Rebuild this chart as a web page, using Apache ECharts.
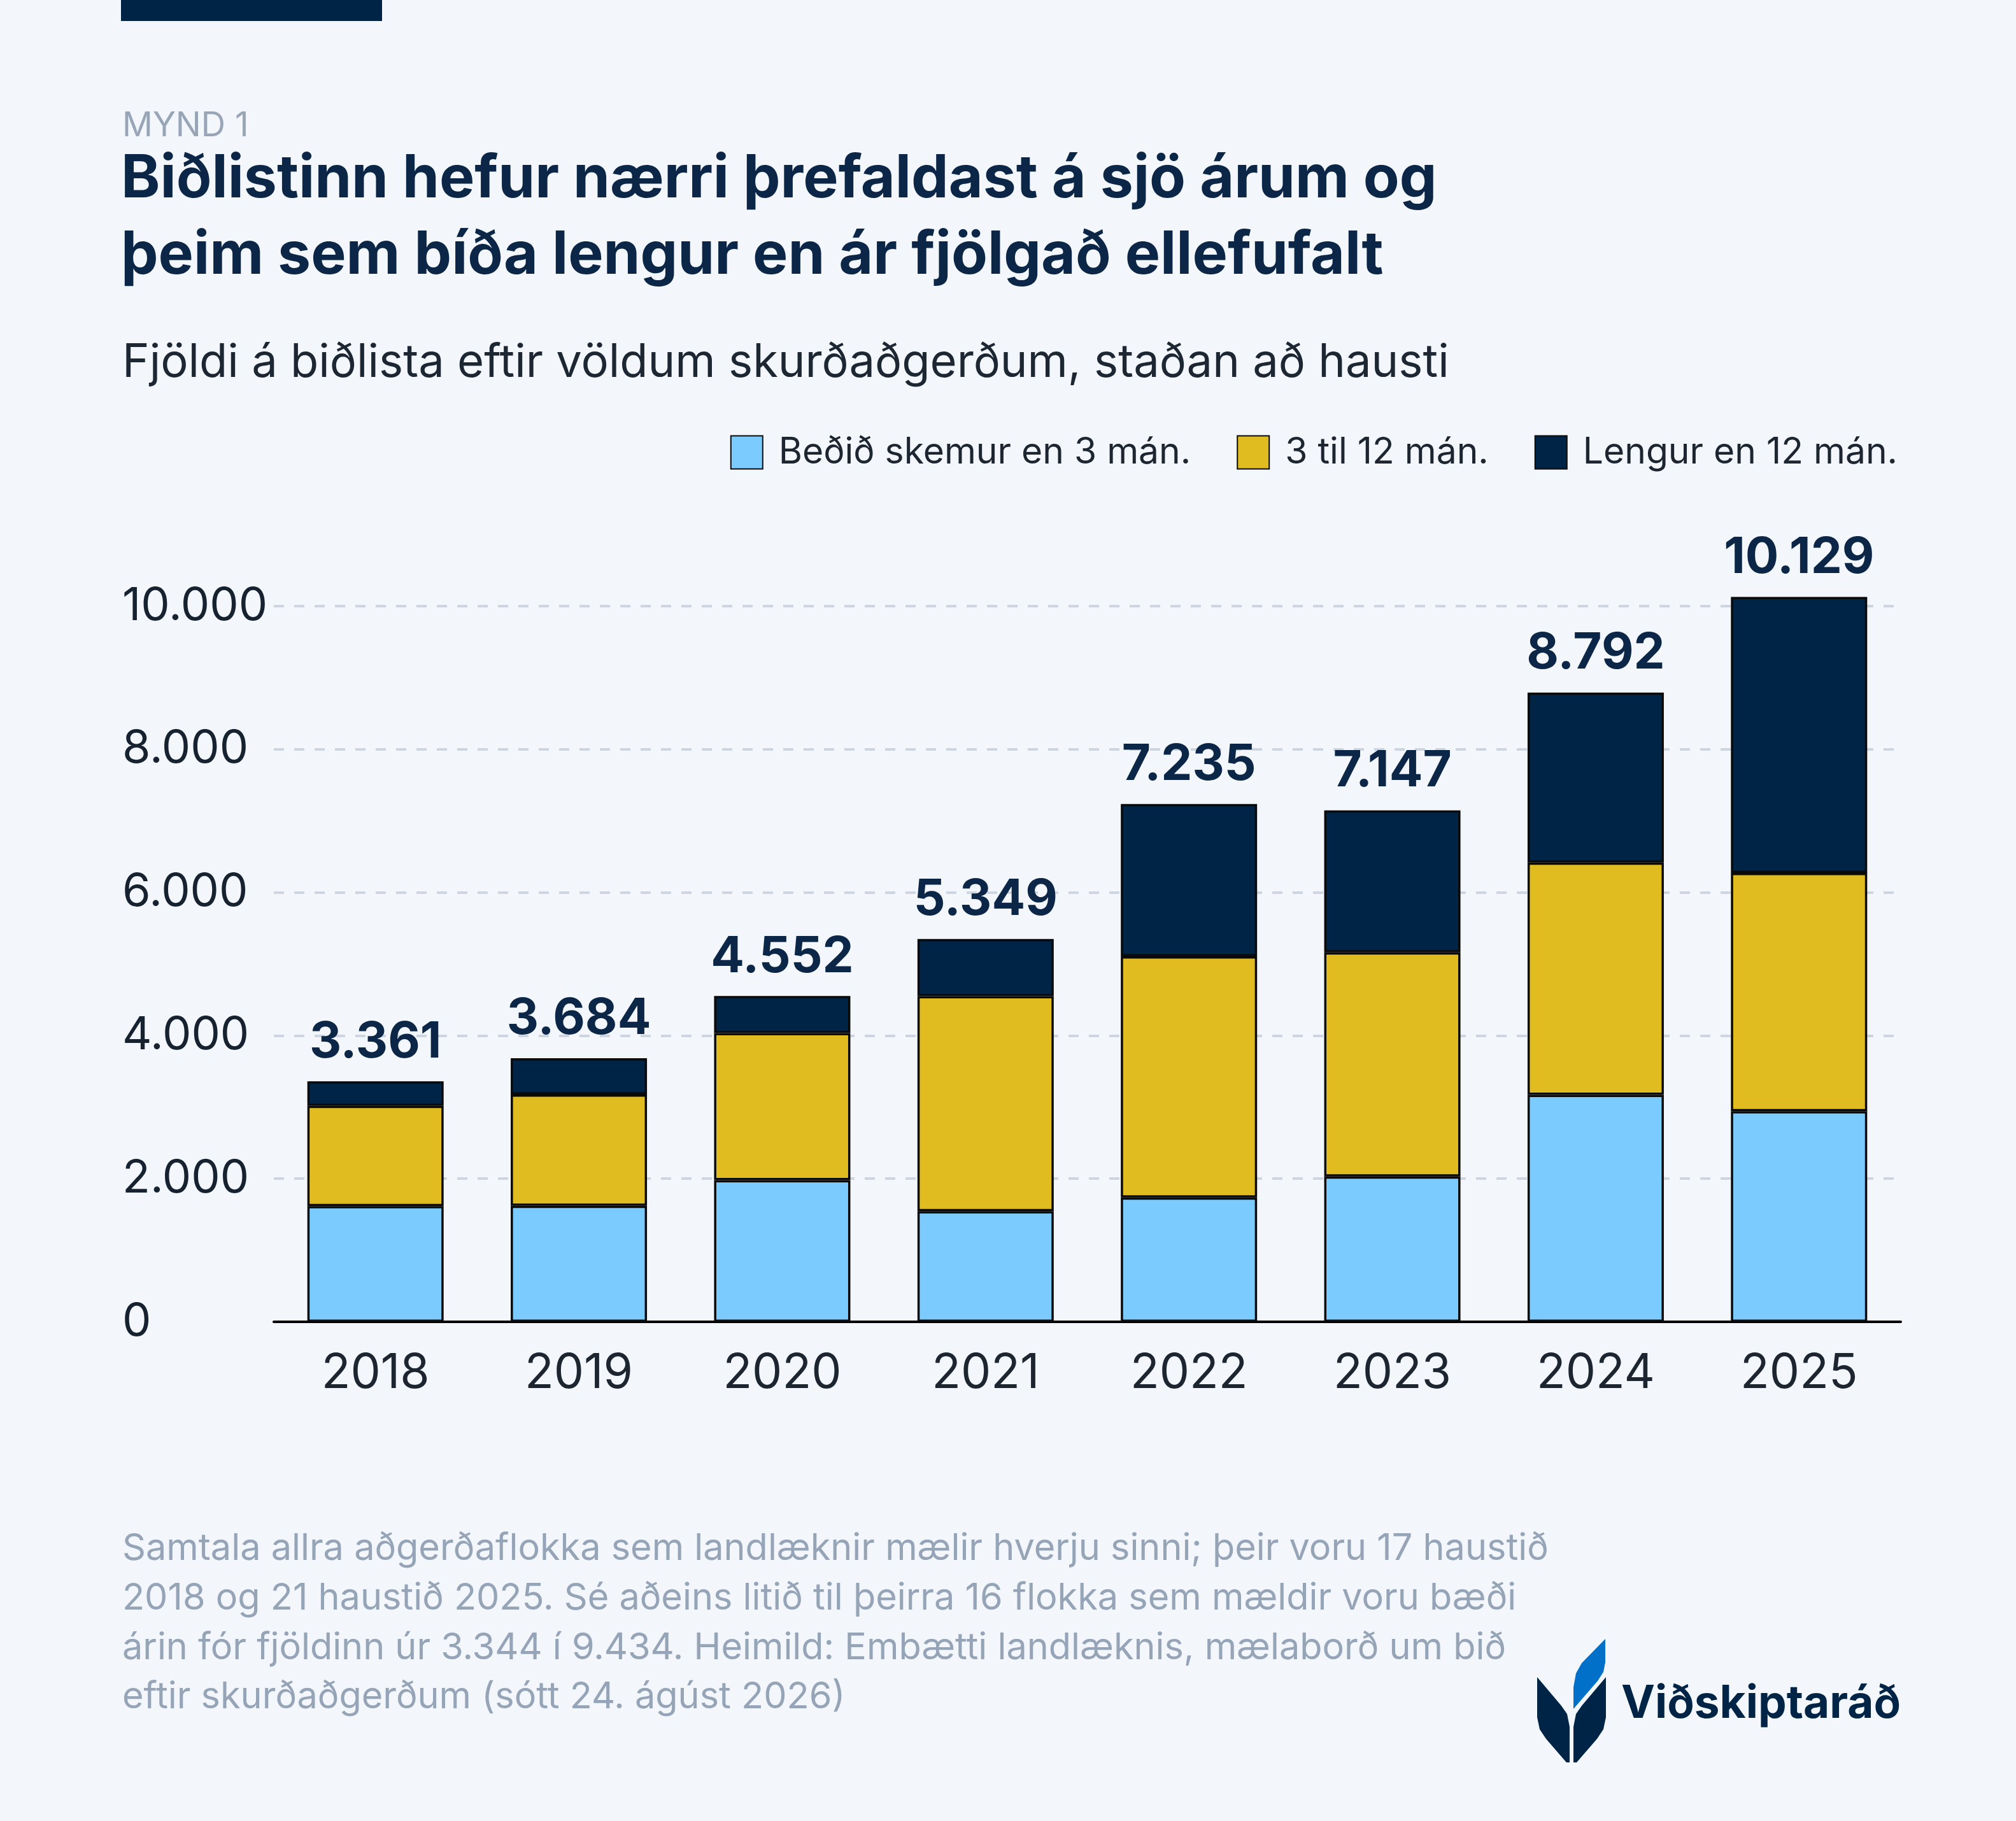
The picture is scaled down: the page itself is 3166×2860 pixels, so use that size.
<!doctype html>
<html lang="is">
<head>
    <meta charset="utf-8">
    <title>Mynd 1</title>
    <script src="https://cdn.jsdelivr.net/npm/echarts@6/dist/echarts.min.js"></script>
    <style>
        html, body { margin: 0; padding: 0; background: #f3f7fc; }
        #main { width: 3166px; height: 2860px; }
    </style>
</head>
<body>
    <div id="main"></div>
    <script type="text/javascript">
    // gögn lesin af myndinni
    var years = ['2018', '2019', '2020', '2021', '2022', '2023', '2024', '2025'];
    var under3 = [1618, 1622, 1979, 1545, 1737, 2030, 3172, 2942];
    var from3to12 = [1401, 1555, 2056, 3005, 3370, 3133, 3244, 3331];
    var over12 = [342, 507, 517, 799, 2128, 1984, 2376, 3856];
    var totals = [3361, 3684, 4552, 5349, 7235, 7147, 8792, 10129];
    var seriesNames = ['Beðið skemur en 3 mán.', '3 til 12 mán.', 'Lengur en 12 mán.'];

    var FONT = 'Inter, "Noto Sans", sans-serif';
    var NAVY = '#002445';

    function fmt(v) {
        return String(v).replace(/\B(?=(\d{3})+(?!\d))/g, '.');
    }

    function txt(text, x, y, size, color, weight) {
        return {
            type: 'text',
            x: x,
            y: y,
            style: {
                text: text,
                fill: color,
                font: (weight || 'normal') + ' ' + size + 'px ' + FONT,
                textAlign: 'left',
                textVerticalAlign: 'middle'
            }
        };
    }

    var footer = [
        'Samtala allra aðgerðaflokka sem landlæknir mælir hverju sinni; þeir voru 17 haustið',
        '2018 og 21 haustið 2025. Sé aðeins litið til þeirra 16 flokka sem mældir voru bæði',
        'árin fór fjöldinn úr 3.344 í 9.434. Heimild: Embætti landlæknis, mælaborð um bið',
        'eftir skurðaðgerðum (sótt 24. ágúst 2026)'
    ];

    var graphics = [
        { type: 'rect', shape: { x: 190, y: 0, width: 410, height: 33 }, style: { fill: NAVY } },
        txt('MYND 1', 192, 198, 53, '#98a5b7'),
        txt('Biðlistinn hefur nærri þrefaldast á sjö árum og', 190, 282, 93, '#0b2646', 'bold'),
        txt('þeim sem bíða lengur en ár fjölgað ellefufalt', 190, 402, 93, '#0b2646', 'bold'),
        txt('Fjöldi á biðlista eftir völdum skurðaðgerðum, staðan að hausti', 192, 570, 72.3, '#1c2733')
    ];
    footer.forEach(function (line, i) {
        graphics.push(txt(line, 192, 2433 + i * 77.7, 57.6, '#96a4b8'));
    });
    // merki
    graphics.push(
        { type: 'polygon', shape: { points: [[2521, 2574], [2521, 2611], [2518, 2626], [2509, 2640], [2471, 2684], [2471, 2650], [2475, 2628], [2484, 2612]] }, style: { fill: '#0070c9' } },
        { type: 'polygon', shape: { points: [[2414, 2634], [2452, 2679], [2461, 2692], [2465, 2712], [2465, 2768], [2460, 2768], [2428, 2731], [2418, 2716], [2414, 2697]] }, style: { fill: NAVY } },
        { type: 'polygon', shape: { points: [[2522, 2634], [2484, 2679], [2475, 2692], [2471, 2712], [2471, 2768], [2476, 2768], [2508, 2731], [2518, 2716], [2522, 2697]] }, style: { fill: NAVY } },
        txt('Viðskiptaráð', 2546, 2677, 71, NAVY, 'bold')
    );

    var myChart = echarts.init(document.getElementById('main'));

    var barStyle = function (color) {
        return { color: color, borderColor: '#0a0a0a', borderWidth: 3.5 };
    };

    var option = {
        backgroundColor: '#f3f7fc',
        animation: false,
        textStyle: { fontFamily: FONT },
        graphic: graphics,
        legend: {
            right: 181,
            top: 677,
            icon: 'rect',
            itemWidth: 50,
            itemHeight: 52,
            itemGap: 72,
            data: seriesNames,
            textStyle: { fontSize: 57, color: '#1c2530', fontFamily: FONT, padding: [0, 0, 0, 20] }
        },
        grid: { left: 430, right: 181, top: 952, bottom: 784, containLabel: false },
        xAxis: {
            type: 'category',
            data: years,
            axisLine: { lineStyle: { color: '#000', width: 4 } },
            axisTick: { show: false },
            axisLabel: { fontSize: 75, color: '#1c2530', margin: 44, fontFamily: FONT }
        },
        yAxis: {
            type: 'value',
            min: 0,
            max: 10000,
            interval: 2000,
            axisLine: { show: false },
            axisTick: { show: false },
            axisLabel: {
                fontSize: 72, color: '#16222f', align: 'left', margin: 238, fontFamily: FONT,
                formatter: fmt
            },
            splitLine: { lineStyle: { color: '#cdd5e0', width: 4, type: [16, 16] } }
        },
        series: [
            { name: seriesNames[0], type: 'bar', stack: 'total', barWidth: 214, clip: false, data: under3, itemStyle: barStyle('#7ccbfe') },
            { name: seriesNames[1], type: 'bar', stack: 'total', barWidth: 214, clip: false, data: from3to12, itemStyle: barStyle('#e1bc20') },
            {
                name: seriesNames[2], type: 'bar', stack: 'total', barWidth: 214, clip: false, data: over12,
                itemStyle: barStyle(NAVY),
                label: {
                    show: true,
                    position: 'top',
                    distance: 22,
                    fontSize: 78,
                    fontWeight: 'bold',
                    color: '#0b2646',
                    fontFamily: FONT,
                    formatter: function (p) { return fmt(totals[p.dataIndex]); }
                }
            }
        ]
    };

    myChart.setOption(option);
    </script>
</body>
</html>
